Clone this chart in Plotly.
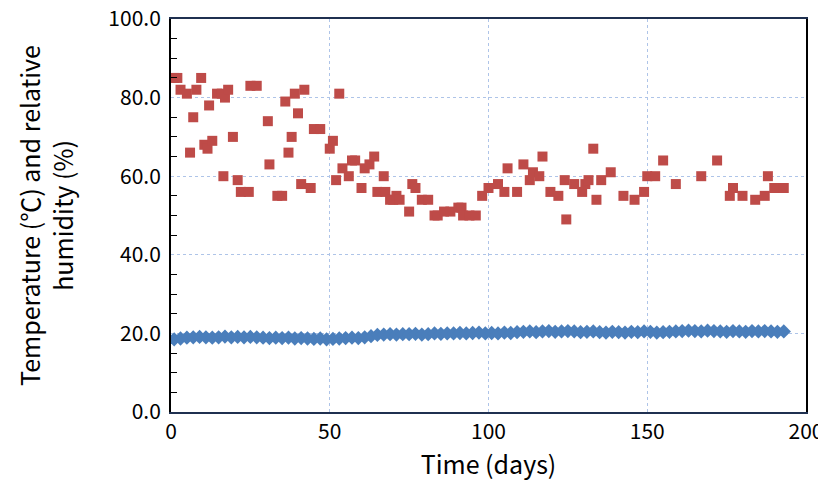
import plotly.graph_objects as go

# relative humidity (%)
rh_days = [1, 2, 9.5, 3, 5, 8, 7, 6, 12, 10.5, 11.5, 13, 14.5, 16, 17, 18, 19.5, 16.5, 21, 22, 24.5,
           25, 27, 30.5, 31, 33.5, 35, 36, 37, 38, 39, 40, 41, 42, 44, 45, 47, 50, 51, 52, 53, 54,
           56, 57, 58, 60, 61, 62.5, 64, 65, 67, 67.5, 69, 70, 71, 72, 75, 76, 77, 79, 81, 83, 84,
           86, 88, 90.5, 91.5, 92, 94, 96, 98, 100, 103, 105, 106, 109, 111, 113, 114, 116, 117,
           119.5, 122, 124, 124.5, 127, 129.5, 130.5, 131.5, 133, 134, 135.5, 138.5, 142.5, 146,
           149, 150, 152.5, 155, 159, 167, 172, 176, 177, 180, 184, 187, 188, 190, 193]
rh_vals = [85, 85, 85, 82, 81, 82, 75, 66, 78, 68, 67, 69, 81, 81, 80, 82, 70, 60, 59, 56, 56,
           83, 83, 74, 63, 55, 55, 79, 66, 70, 81, 76, 58, 82, 57, 72, 72, 67, 69, 59, 81, 62,
           60, 64, 64, 57, 62, 63, 65, 56, 60, 56, 54, 54, 55, 54, 51, 58, 57, 54, 54, 50, 50,
           51, 51, 52, 52, 50, 50, 50, 55, 57, 58, 56, 62, 56, 63, 59, 61, 60, 65,
           56, 55, 59, 49, 58, 56, 58, 59, 67, 54, 59, 61, 55, 54,
           56, 60, 60, 64, 58, 60, 64, 55, 57, 55, 54, 55, 60, 57, 57]

# temperature (°C), roughly every 2 days
t_days = list(range(1, 195, 2))
t_vals = [18.5, 18.7, 18.9, 19.0, 19.1, 19.0, 18.9, 19.0, 19.2, 19.0, 19.1, 19.0, 19.1, 19.0, 18.9,
          18.8, 18.9, 18.8, 18.9, 18.7, 18.8, 18.7, 18.6, 18.7, 18.5, 18.6, 18.7, 18.8, 18.9, 18.8,
          19.0, 19.3, 19.6, 19.7, 19.8, 19.7, 19.8, 19.8, 19.9, 19.7, 19.8, 20.0, 19.9, 20.0, 20.0,
          20.1, 20.0, 20.1, 20.2, 20.0, 20.1, 20.0, 20.2, 20.1, 20.3, 20.4, 20.5, 20.3, 20.5, 20.6,
          20.4, 20.5, 20.6, 20.5, 20.3, 20.4, 20.5, 20.3, 20.2, 20.4, 20.3, 20.2, 20.4, 20.3, 20.5,
          20.4, 20.2, 20.3, 20.4, 20.5, 20.6, 20.7, 20.6, 20.5, 20.7, 20.6, 20.5, 20.4, 20.6, 20.5,
          20.4, 20.6, 20.5, 20.6, 20.5, 20.4, 20.5]

fig = go.Figure()
fig.add_trace(go.Scatter(x=t_days, y=t_vals, mode="markers",
                         marker=dict(symbol="diamond", size=11, color="#4a7ebb")))
fig.add_trace(go.Scatter(x=rh_days, y=rh_vals, mode="markers",
                         marker=dict(symbol="square", size=10, color="#be4b48")))

font = "Noto Sans CJK KR"
fig.update_layout(
    width=826, height=503, showlegend=False,
    margin=dict(l=163, r=28, t=11, b=99, autoexpand=False),
    plot_bgcolor="white", paper_bgcolor="white",
    font=dict(family=font, size=21, color="black"),
    xaxis=dict(range=[0, 200], dtick=50, showgrid=True, gridcolor="#aec4e8", griddash="dot",
               showline=True, linecolor="#1f3050", linewidth=2, mirror=True, zeroline=False,
               ticks="outside", ticklen=0, automargin=False, ticklabeloverflow="allow",
               title=dict(text="Time (days)", standoff=10)),
    yaxis=dict(range=[0, 100], dtick=20, tickformat=".1f", showgrid=True, gridcolor="#aec4e8",
               griddash="dot", showline=True, linecolor="black", linewidth=2, mirror=True,
               zeroline=False, ticks="", ticklabelstandoff=4, automargin=False,
               ticklabeloverflow="allow",
               minor=dict(dtick=5, ticks="inside", ticklen=6, tickcolor="black", showgrid=False),
               title=dict(text="Temperature (℃) and relative<br>humidity (%)", standoff=28)),
)

fig.write_html("out.html")
